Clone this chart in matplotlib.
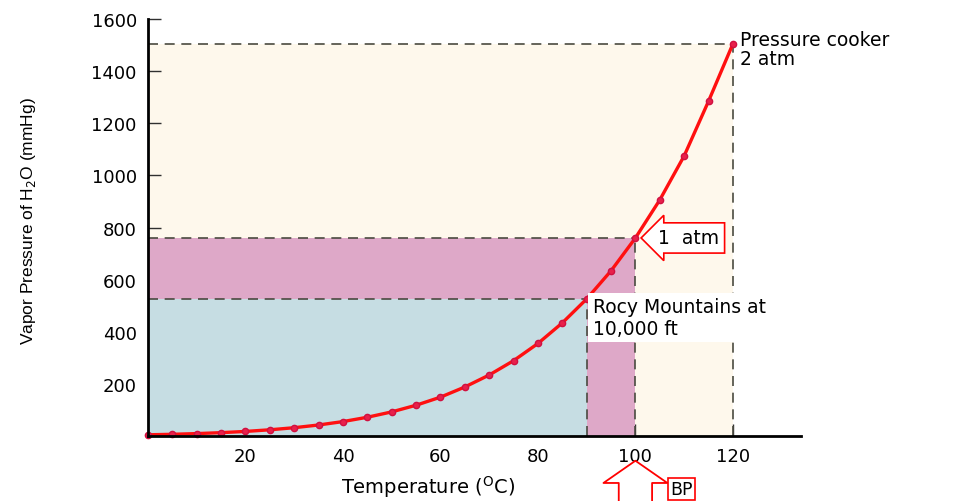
import numpy as np
import matplotlib
matplotlib.use('Agg')
from matplotlib import pyplot as plt

plt.rcParams['font.family'] = ['DejaVu Sans']

# vapor pressure of water (every 5 C)
temps = [0, 5, 10, 15, 20, 25, 30, 35, 40, 45, 50, 55, 60,
         65, 70, 75, 80, 85, 90, 95, 100, 105, 110, 115, 120]
pressure = [4.6, 6.5, 9.2, 12.8, 17.5, 23.8, 31.8, 42.2, 55.3, 71.9, 92.5, 118, 149,
            188, 234, 289, 355, 434, 526, 634, 760, 906, 1075, 1285, 1505]

# boiling points of interest
bp_mountain = 90
p_mountain = 526
bp_sea = 100
p_sea = 760
bp_cooker = 120
p_cooker = 1505

x_ticks = [20, 40, 60, 80, 100, 120]
y_ticks = [200, 400, 600, 800, 1000, 1200, 1400, 1600]

fig = plt.figure(figsize=(9.62, 5.02), dpi=100)
ax = fig.add_axes([0.1538, 0.1295, 0.679, 0.8305])

cream = '#FEF8EC'
pink = '#DEA8C8'
bluegreen = '#C6DDE3'
dash = '#4a4a40'

ax.fill_between([0, bp_cooker], 0, p_cooker, color=cream, lw=0, zorder=1)
ax.fill_between([0, bp_sea], 0, p_sea, color=pink, lw=0, zorder=2)
ax.fill_between([0, bp_mountain], 0, p_mountain, color=bluegreen, lw=0, zorder=3)

for bx, py in [(bp_mountain, p_mountain), (bp_sea, p_sea), (bp_cooker, p_cooker)]:
    ax.plot([0, bx], [py, py], ls=(0, (6, 4)), color=dash, lw=1.2, zorder=4)
    ax.plot([bx, bx], [0, py], ls=(0, (6, 4)), color=dash, lw=1.2, zorder=4)

ax.plot(temps, pressure, color='#ff1010', lw=2.4, marker='o', ms=4.5,
        mfc='#e8204a', mec='#d01040', zorder=6, clip_on=False)

ax.set_xlim(0, 134)
ax.set_ylim(0, 1600)
ax.set_xticks(x_ticks)
ax.set_yticks(y_ticks)
ax.tick_params(direction='in', length=9, width=1, labelsize=13, pad=8, colors='#303030')
ax.tick_params(labelcolor='black')
for s in ['top', 'right']:
    ax.spines[s].set_visible(False)
ax.spines['left'].set_linewidth(2)
ax.spines['bottom'].set_linewidth(2)
ax.spines['left'].set_zorder(7)
ax.spines['bottom'].set_zorder(7)

ax.set_ylabel('Vapor Pressure of H$_2$O (mmHg)', fontsize=12.5,
              family=['Liberation Sans', 'DejaVu Sans'])
ax.yaxis.set_label_coords(-0.168, 0.518)
ax.set_xlabel('Temperature ($^{\\rm O}$C)', fontsize=14)
ax.xaxis.set_label_coords(0.429, -0.088)

ax.text(121.5, 1560, 'Pressure cooker\n2 atm', fontsize=13.5, va='top', ha='left',
        linespacing=1.0, zorder=8)
ax.text(91.2, 455, 'Rocy Mountains at\n10,000 ft', fontsize=13.5, va='center', ha='left',
        linespacing=1.15, zorder=8,
        bbox=dict(boxstyle='square,pad=0.25', fc='white', ec='none'))
ax.text(104.6, 760, '1  atm', fontsize=13.5, va='center', ha='left', zorder=8,
        bbox=dict(boxstyle='larrow,pad=0.3', fc='white', ec='red', lw=1.2))

# BP block arrow pointing up at 100 C
ax.annotate('', xy=(bp_sea, -95), xytext=(bp_sea, -300), annotation_clip=False, zorder=8,
            arrowprops=dict(arrowstyle='simple,head_width=2.3,head_length=0.8,tail_width=1.2',
                            mutation_scale=20, fc='white', ec='red', lw=1.3,
                            shrinkA=0, shrinkB=0))
ax.text(109.5, -205, 'BP', fontsize=12.5, ha='center', va='center', zorder=9,
        bbox=dict(boxstyle='square,pad=0.12', fc='white', ec='red', lw=1.2))

fig.savefig('out.png', dpi=100)
